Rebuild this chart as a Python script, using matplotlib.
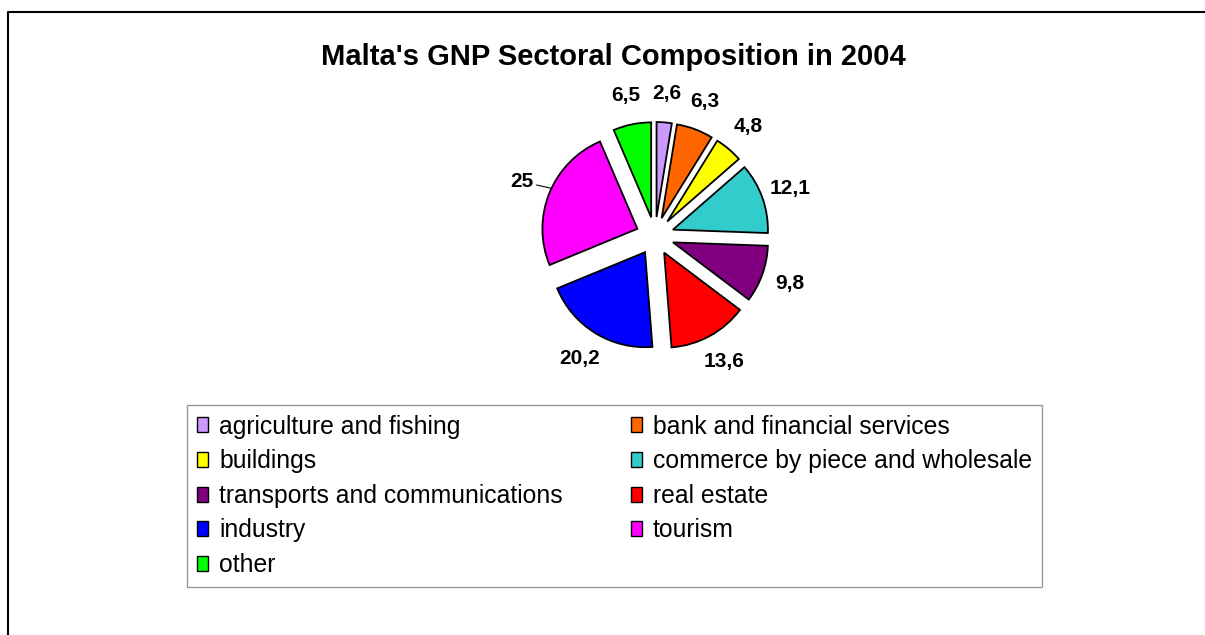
import matplotlib
matplotlib.use("Agg")
import matplotlib.pyplot as plt
import numpy as np
from matplotlib.patches import Patch
from matplotlib.lines import Line2D

plt.rcParams['font.family'] = ['Liberation Sans', 'DejaVu Sans']

# Data
sectors = ["agriculture and fishing", "bank and financial services", "buildings",
           "commerce by piece and wholesale", "transports and communications",
           "real estate", "industry", "tourism", "other"]
shares = [2.6, 6.3, 4.8, 12.1, 9.8, 13.6, 20.2, 25, 6.5]
colors = ["#CC99FF", "#FF6600", "#FFFF00", "#33CCCC", "#800080",
          "#FF0000", "#0000FF", "#FF00FF", "#00FF00"]
title = "Malta's GNP Sectoral Composition in 2004"

W, H = 1205, 635
fig = plt.figure(figsize=(W / 100, H / 100), dpi=100)
ax = fig.add_axes([0, 0, 1, 1])

# pie in pixel-like data units
center = (655, H - 236)
radius = 95
labels = [("%g" % v).replace(".", ",") for v in shares]
wedges, texts = ax.pie(shares, colors=colors, startangle=90, counterclock=False,
                       center=center, radius=radius, explode=[19] * len(shares),
                       labels=labels, labeldistance=1.31, frame=False,
                       wedgeprops=dict(edgecolor="black", linewidth=1.3),
                       textprops=dict(fontsize=15, fontweight="bold"))
for t in texts:
    t.set_ha("center")
    t.set_va("center")

# leader line for the tourism label
k = sectors.index("tourism")
w = wedges[k]
tm = np.radians((w.theta1 + w.theta2) / 2 - 3)
arc_pt = (w.center[0] + w.r * np.cos(tm), w.center[1] + w.r * np.sin(tm))
texts[k].set_visible(False)
ax.annotate(texts[k].get_text(), xy=arc_pt, xytext=texts[k].get_position(),
            ha="center", va="center", fontsize=15, fontweight="bold",
            arrowprops=dict(arrowstyle="-", lw=0.8, color="black",
                            shrinkA=0, shrinkB=0))

ax.set_xlim(0, W)
ax.set_ylim(0, H)
ax.set_aspect("equal")
ax.axis("off")

# title
fig.text(613 / W, 1 - 57 / H, title, ha="center", va="center",
         fontsize=21, fontweight="bold")

# legend, row-wise order like the original
order = [0, 2, 4, 6, 8, 1, 3, 5, 7]
handles = [Patch(facecolor=colors[i], edgecolor="black", linewidth=1.0,
                 label=sectors[i]) for i in order]
leg = fig.legend(handles=handles, loc="upper left", ncol=2, mode="expand",
                 bbox_to_anchor=(187 / W, 1 - 411 / H, 855 / W, 0.01),
                 fontsize=17.8, frameon=True, fancybox=False, borderaxespad=0,
                 handlelength=0.45, handleheight=0.55, handletextpad=0.45,
                 labelspacing=0.43, borderpad=0.4)
leg.get_frame().set_edgecolor("#808080")
leg.get_frame().set_linewidth(1.0)

# outer chart border (only left and top are visible)
fig.add_artist(Line2D([8 / W, 8 / W, 1], [0, 1 - 12 / H, 1 - 12 / H],
                      transform=fig.transFigure, color="black", lw=1.5))

fig.savefig("out.png", dpi=100)
